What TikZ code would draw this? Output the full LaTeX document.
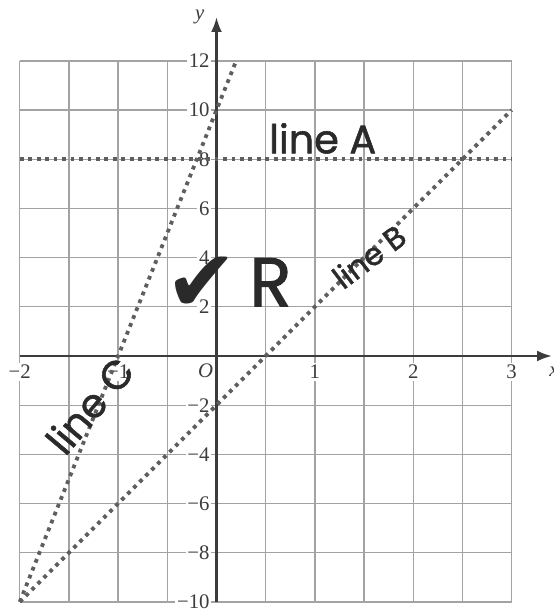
\documentclass[tikz,border=0pt]{standalone}
\usepackage{fontspec}
\setmainfont{Liberation Serif}
\newfontfamily\handfont[FakeBold=1.4]{Poppins}
\newfontfamily\symfont{DejaVu Sans}
\usetikzlibrary{arrows.meta}
\definecolor{gridgray}{HTML}{A3A3A3}
\definecolor{axisgray}{HTML}{3C3C3C}
\definecolor{dotgray}{HTML}{5E5E5E}
\definecolor{inkgray}{HTML}{2A2A2A}
\tikzset{
  gridline/.style={gridgray, line width=0.75pt},
  axisline/.style={axisgray, line width=1.3pt, -{Latex[length=3mm,width=2.2mm]}},
  dotline/.style={dotgray, line width=2.2pt, dash pattern=on 2.2pt off 2.7pt},
  ticklabel/.style={fill=white, inner sep=1pt, text=axisgray, font=\fontsize{12}{12}\selectfont},
  handtext/.style={inkgray, inner sep=0pt, font=\handfont\fontsize{#1}{#1}\selectfont},
}
\begin{document}
\begin{tikzpicture}[x=2cm, y=0.5cm]
\useasboundingbox (-2.201,-10.289) rectangle (3.428,14.477);
% grid
\foreach \gx in {-2,-1.5,...,3} \draw[gridline] (\gx,-10) -- (\gx,12);
\foreach \gy in {-10,-8,...,12} \draw[gridline] (-2,\gy) -- (3,\gy);
% tick labels
\foreach \gx/\gtext in {-2/−2,-1/−1,1/1,2/2,3/3}
  \node[ticklabel] (xlab\gx) at (\gx,-0.65) {\gtext};
\foreach \gy/\gtext in {-10/−10,-8/−8,-6/−6,-4/−4,-2/−2,2/2,4/4,6/6,8/8,10/10,12/12}
  \node[ticklabel, anchor=east] (ylab\gy) at (-0.05,\gy) {\gtext};
\node[ticklabel, fill=none] (orig) at (-0.11,-0.6) {\textit{O}};
% axes
\coordinate (xstart) at (-2,0);
\coordinate (xend) at (3.41,0);
\coordinate (ystart) at (0,-10);
\coordinate (yend) at (0,13.78);
\draw[axisline] (xstart) -- (xend);
\draw[axisline] (ystart) -- (yend);
\node[ticklabel, fill=none] (xname) at (3.43,-0.65) {\textit{x}};
\node[ticklabel, fill=none] (yname) at (-0.17,13.8) {\textit{y}};
% dotted lines
\coordinate (corner) at (-2,-10);
\coordinate (aleft) at (-2,8);
\coordinate (aright) at (3,8);
\coordinate (bend) at (3,10);
\coordinate (cend) at (0.2,12);
\draw[dotline] (aleft) -- (aright);
\draw[dotline] (corner) -- (bend);
\draw[dotline] (corner) -- (cend);
% handwriting
\node[handtext=23] (linea) at (1.08,8.85) {line A};
\node[handtext=18, rotate=37] (lineb) at (1.55,4.05) {line B};
\node[handtext=23, rotate=50] (linec) at (-1.29,-2.0) {line C};
\node[inkgray, inner sep=0pt, font=\symfont\fontsize{50}{50}\selectfont] (tick) at (-0.15,2.9) {✔};
\node[handtext=40] (mark) at (0.55,3.0) {R};
\end{tikzpicture}
\end{document}
